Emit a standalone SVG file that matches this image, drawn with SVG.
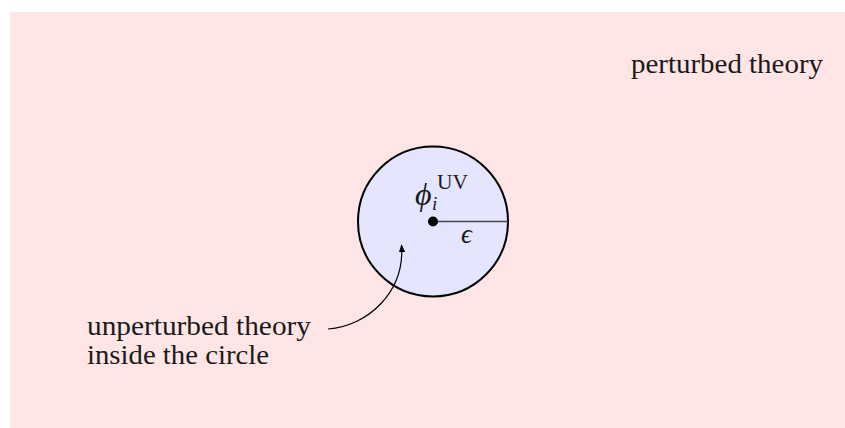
<svg xmlns="http://www.w3.org/2000/svg" width="845" height="428" viewBox="0 0 845 428">
<defs>
<style>
.t{font-family:"Liberation Serif","DejaVu Serif",serif;font-size:27px;fill:#1a1a1a}
.m{font-family:"Liberation Serif","DejaVu Serif",serif;font-style:italic;fill:#1a1a1a}
</style>
<marker id="ah" viewBox="0 0 10 10" refX="9" refY="5" markerWidth="8" markerHeight="8" markerUnits="userSpaceOnUse" orient="auto">
<path d="M0,1 L10,5 L0,9 Z" fill="#000"/>
</marker>
</defs>
<rect id="bg" x="10" y="12" width="835" height="416" fill="#FFE5E5"/>
<g id="circle-node">
<circle cx="433" cy="221.5" r="75" fill="#E5E5FF" stroke="#000" stroke-width="2"/>
</g>
<g id="connectors">
<line x1="433" y1="221.5" x2="508" y2="221.5" stroke="#444" stroke-width="1.3"/>
<path d="M328,329 C368,326 405,292 401.5,245" fill="none" stroke="#000" stroke-width="1.2" marker-end="url(#ah)"/>
</g>
<g id="center">
<circle cx="433" cy="221.5" r="5" fill="#000"/>
</g>
<g id="labels">
<text class="m" x="415" y="205" style="font-size:32px">ϕ</text>
<text class="m" x="432" y="210" style="font-size:19px">i</text>
<text class="t" x="437" y="189" textLength="31" lengthAdjust="spacingAndGlyphs" style="font-size:20px">UV</text>
<text class="m" x="461" y="243" style="font-size:27px">ϵ</text>
<text class="t" x="631" y="73" textLength="192" lengthAdjust="spacingAndGlyphs">perturbed theory</text>
<text class="t" x="87" y="335" textLength="224" lengthAdjust="spacingAndGlyphs">unperturbed theory</text>
<text class="t" x="87" y="364" textLength="182" lengthAdjust="spacingAndGlyphs">inside the circle</text>
</g>
</svg>
